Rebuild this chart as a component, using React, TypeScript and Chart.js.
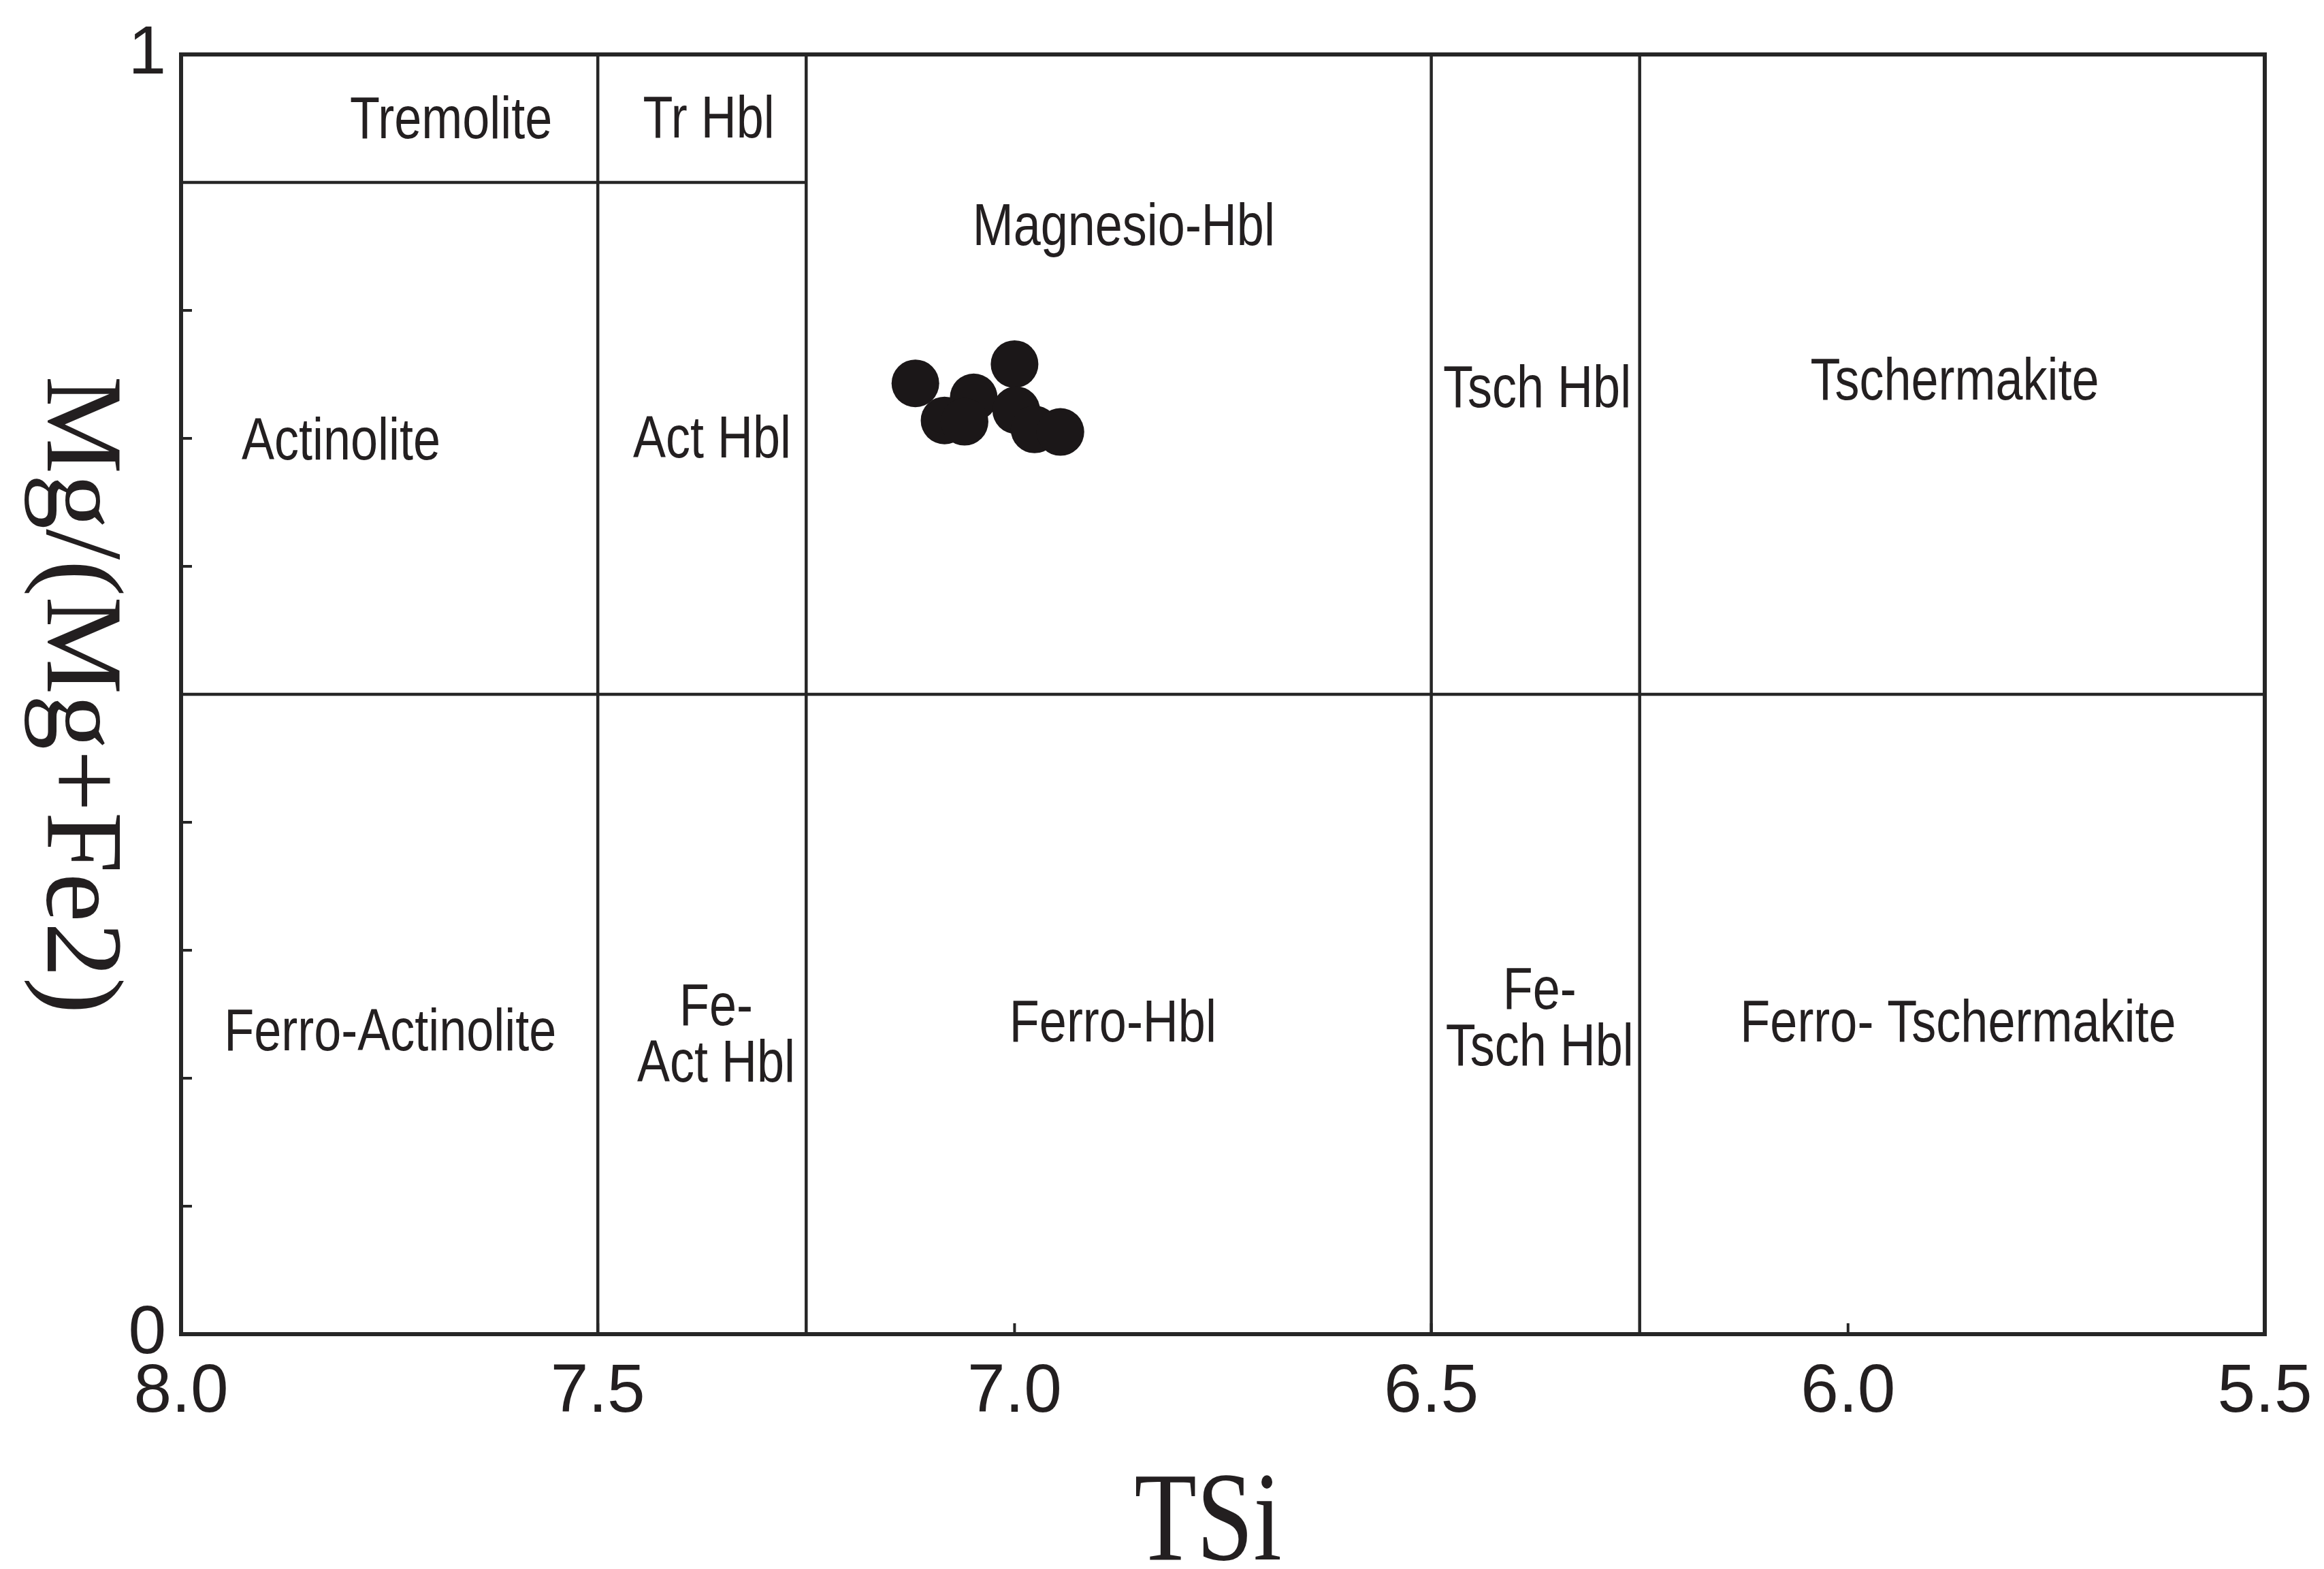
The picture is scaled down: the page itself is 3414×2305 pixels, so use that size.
import React, { useEffect, useRef } from "react";
import { Chart, registerables } from "chart.js";

Chart.register(...registerables);

// Amphibole analyses: tetrahedral Si (a.p.f.u.) vs Mg/(Mg+Fe2)
const tsi = [7.119, 7.0, 7.049, 7.084, 7.06, 6.998, 6.976, 6.945];
const mgRatio = [0.743, 0.758, 0.732, 0.714, 0.713, 0.722, 0.707, 0.705];

// Axis ranges and tick steps
const tsiRange = [5.5, 8.0];
const tsiStep = 0.5;
const mgRange = [0, 1];
const mgStep = 0.1;
const mgLabelled = [0, 1];

// Field boundaries of the classification diagram
const tsiSplits = [7.5, 7.25, 6.5, 6.25];
const mgSplit = 0.5;
const tremoliteMg = 0.9;
const tremoliteTsiEnd = 7.25;

// Field names and where they sit (TSi, Mg/(Mg+Fe2))
const fieldNames = [
  "Tremolite",
  "Tr Hbl",
  "Magnesio-Hbl",
  "Actinolite",
  "Act Hbl",
  "Tsch Hbl",
  "Tschermakite",
  "Ferro-Actinolite",
  "Fe-\nAct Hbl",
  "Ferro-Hbl",
  "Fe-\nTsch Hbl",
  "Ferro- Tschermakite",
];
const fieldTsi = [7.676, 7.367, 6.869, 7.808, 7.363, 6.373, 5.872, 7.749, 7.358, 6.882, 6.37, 5.868];
const fieldMg = [0.947, 0.948, 0.864, 0.696, 0.698, 0.737, 0.743, 0.2345, 0.232, 0.2415, 0.245, 0.2415];

const xTitle = "TSi";
const yTitle = "Mg/(Mg+Fe2)";

const INK = "#231f20";
const LINE = "#262626";

const diagramPlugin = {
  id: "amphiboleFields",
  beforeDatasetsDraw(chart: any) {
    const { ctx, chartArea: a, scales } = chart;
    const x = scales.x;
    const y = scales.y;
    const seg = (x1: number, y1: number, x2: number, y2: number) => {
      ctx.beginPath();
      ctx.moveTo(x1, y1);
      ctx.lineTo(x2, y2);
      ctx.stroke();
    };
    ctx.save();
    ctx.strokeStyle = LINE;
    ctx.lineCap = "butt";

    // field boundaries
    ctx.lineWidth = 4.5;
    for (const v of tsiSplits) {
      const px = x.getPixelForValue(v);
      seg(px, a.top, px, a.bottom);
    }
    const pm = y.getPixelForValue(mgSplit);
    seg(a.left, pm, a.right, pm);
    const pt = y.getPixelForValue(tremoliteMg);
    seg(a.left, pt, x.getPixelForValue(tremoliteTsiEnd), pt);

    // inward tick marks
    ctx.lineWidth = 4;
    for (const t of x.ticks) {
      const px = x.getPixelForValue(t.value);
      seg(px, a.bottom, px, a.bottom - 16);
    }
    for (const t of y.ticks) {
      const py = y.getPixelForValue(t.value);
      seg(a.left, py, a.left + 16, py);
    }

    // frame
    ctx.lineWidth = 6;
    ctx.strokeRect(a.left, a.top, a.width, a.height);

    // field names
    ctx.fillStyle = INK;
    ctx.font = '72px "Liberation Sans", Arial, sans-serif';
    ctx.textAlign = "center";
    ctx.textBaseline = "middle";
    const lineGap = 83;
    fieldNames.forEach((name, i) => {
      const cx = x.getPixelForValue(fieldTsi[i]);
      const cy = y.getPixelForValue(fieldMg[i]);
      const rows = name.split("\n");
      rows.forEach((row, j) => {
        const ry = cy + (j - (rows.length - 1) / 2) * lineGap;
        ctx.save();
        ctx.translate(cx, ry);
        ctx.scale(1, 1.2);
        ctx.fillText(row, 0, 0);
        ctx.restore();
      });
    });

    // axis titles
    ctx.font = '150px "Liberation Serif", "Times New Roman", serif';
    ctx.textBaseline = "alphabetic";
    ctx.save();
    ctx.translate((a.left + a.right) / 2 - 22, 2291);
    ctx.scale(1, 1.25);
    ctx.fillText(xTitle, 0, 0);
    ctx.restore();

    ctx.font = '162px "Liberation Serif", "Times New Roman", serif';
    ctx.textBaseline = "middle";
    ctx.save();
    ctx.translate(113, (a.top + a.bottom) / 2 + 1);
    ctx.rotate(Math.PI / 2);
    ctx.fillText(yTitle, 0, 0);
    ctx.restore();

    ctx.restore();
  },
};

export default function App() {
  const canvasRef = useRef<HTMLCanvasElement | null>(null);

  useEffect(() => {
    const canvas = canvasRef.current;
    if (!canvas) return;
    const chart = new Chart(canvas, {
      type: "scatter",
      data: {
        datasets: [
          {
            data: tsi.map((v, i) => ({ x: v, y: mgRatio[i] })),
            pointRadius: 35,
            pointHoverRadius: 35,
            backgroundColor: "#1b1718",
            borderWidth: 0,
          },
        ],
      },
      options: {
        responsive: false,
        animation: false,
        events: [],
        devicePixelRatio: 1,
        layout: { padding: { left: 66, top: 80, right: 87, bottom: 145 } },
        plugins: { legend: { display: false }, tooltip: { enabled: false } },
        scales: {
          x: {
            type: "linear",
            reverse: true,
            min: tsiRange[0],
            max: tsiRange[1],
            afterFit: (s: any) => {
              s.height = 200;
              s.paddingLeft = 0;
              s.paddingRight = 0;
            },
            grid: { display: false, drawTicks: false },
            border: { display: false },
            ticks: {
              stepSize: tsiStep,
              autoSkip: false,
              maxRotation: 0,
              padding: 26,
              color: INK,
              font: { family: '"Liberation Sans", Arial, sans-serif', size: 100 },
              callback: (v: any) => Number(v).toFixed(1),
            },
          },
          y: {
            type: "linear",
            min: mgRange[0],
            max: mgRange[1],
            afterFit: (s: any) => {
              s.width = 200;
              s.paddingTop = 0;
              s.paddingBottom = 0;
            },
            grid: { display: false, drawTicks: false },
            border: { display: false },
            ticks: {
              stepSize: mgStep,
              autoSkip: false,
              padding: 22,
              color: INK,
              font: { family: '"Liberation Sans", Arial, sans-serif', size: 100 },
              callback: (v: any) => {
                const n = Math.round(Number(v) * 1000) / 1000;
                return mgLabelled.includes(n) ? String(n) : "";
              },
            },
          },
        },
      },
      plugins: [diagramPlugin],
    });
    return () => chart.destroy();
  }, []);

  return (
    <div style={{ position: "fixed", left: 0, top: 0, width: 3414, height: 2305, background: "#fff" }}>
      <canvas ref={canvasRef} width={3414} height={2305} style={{ display: "block" }} />
    </div>
  );
}
